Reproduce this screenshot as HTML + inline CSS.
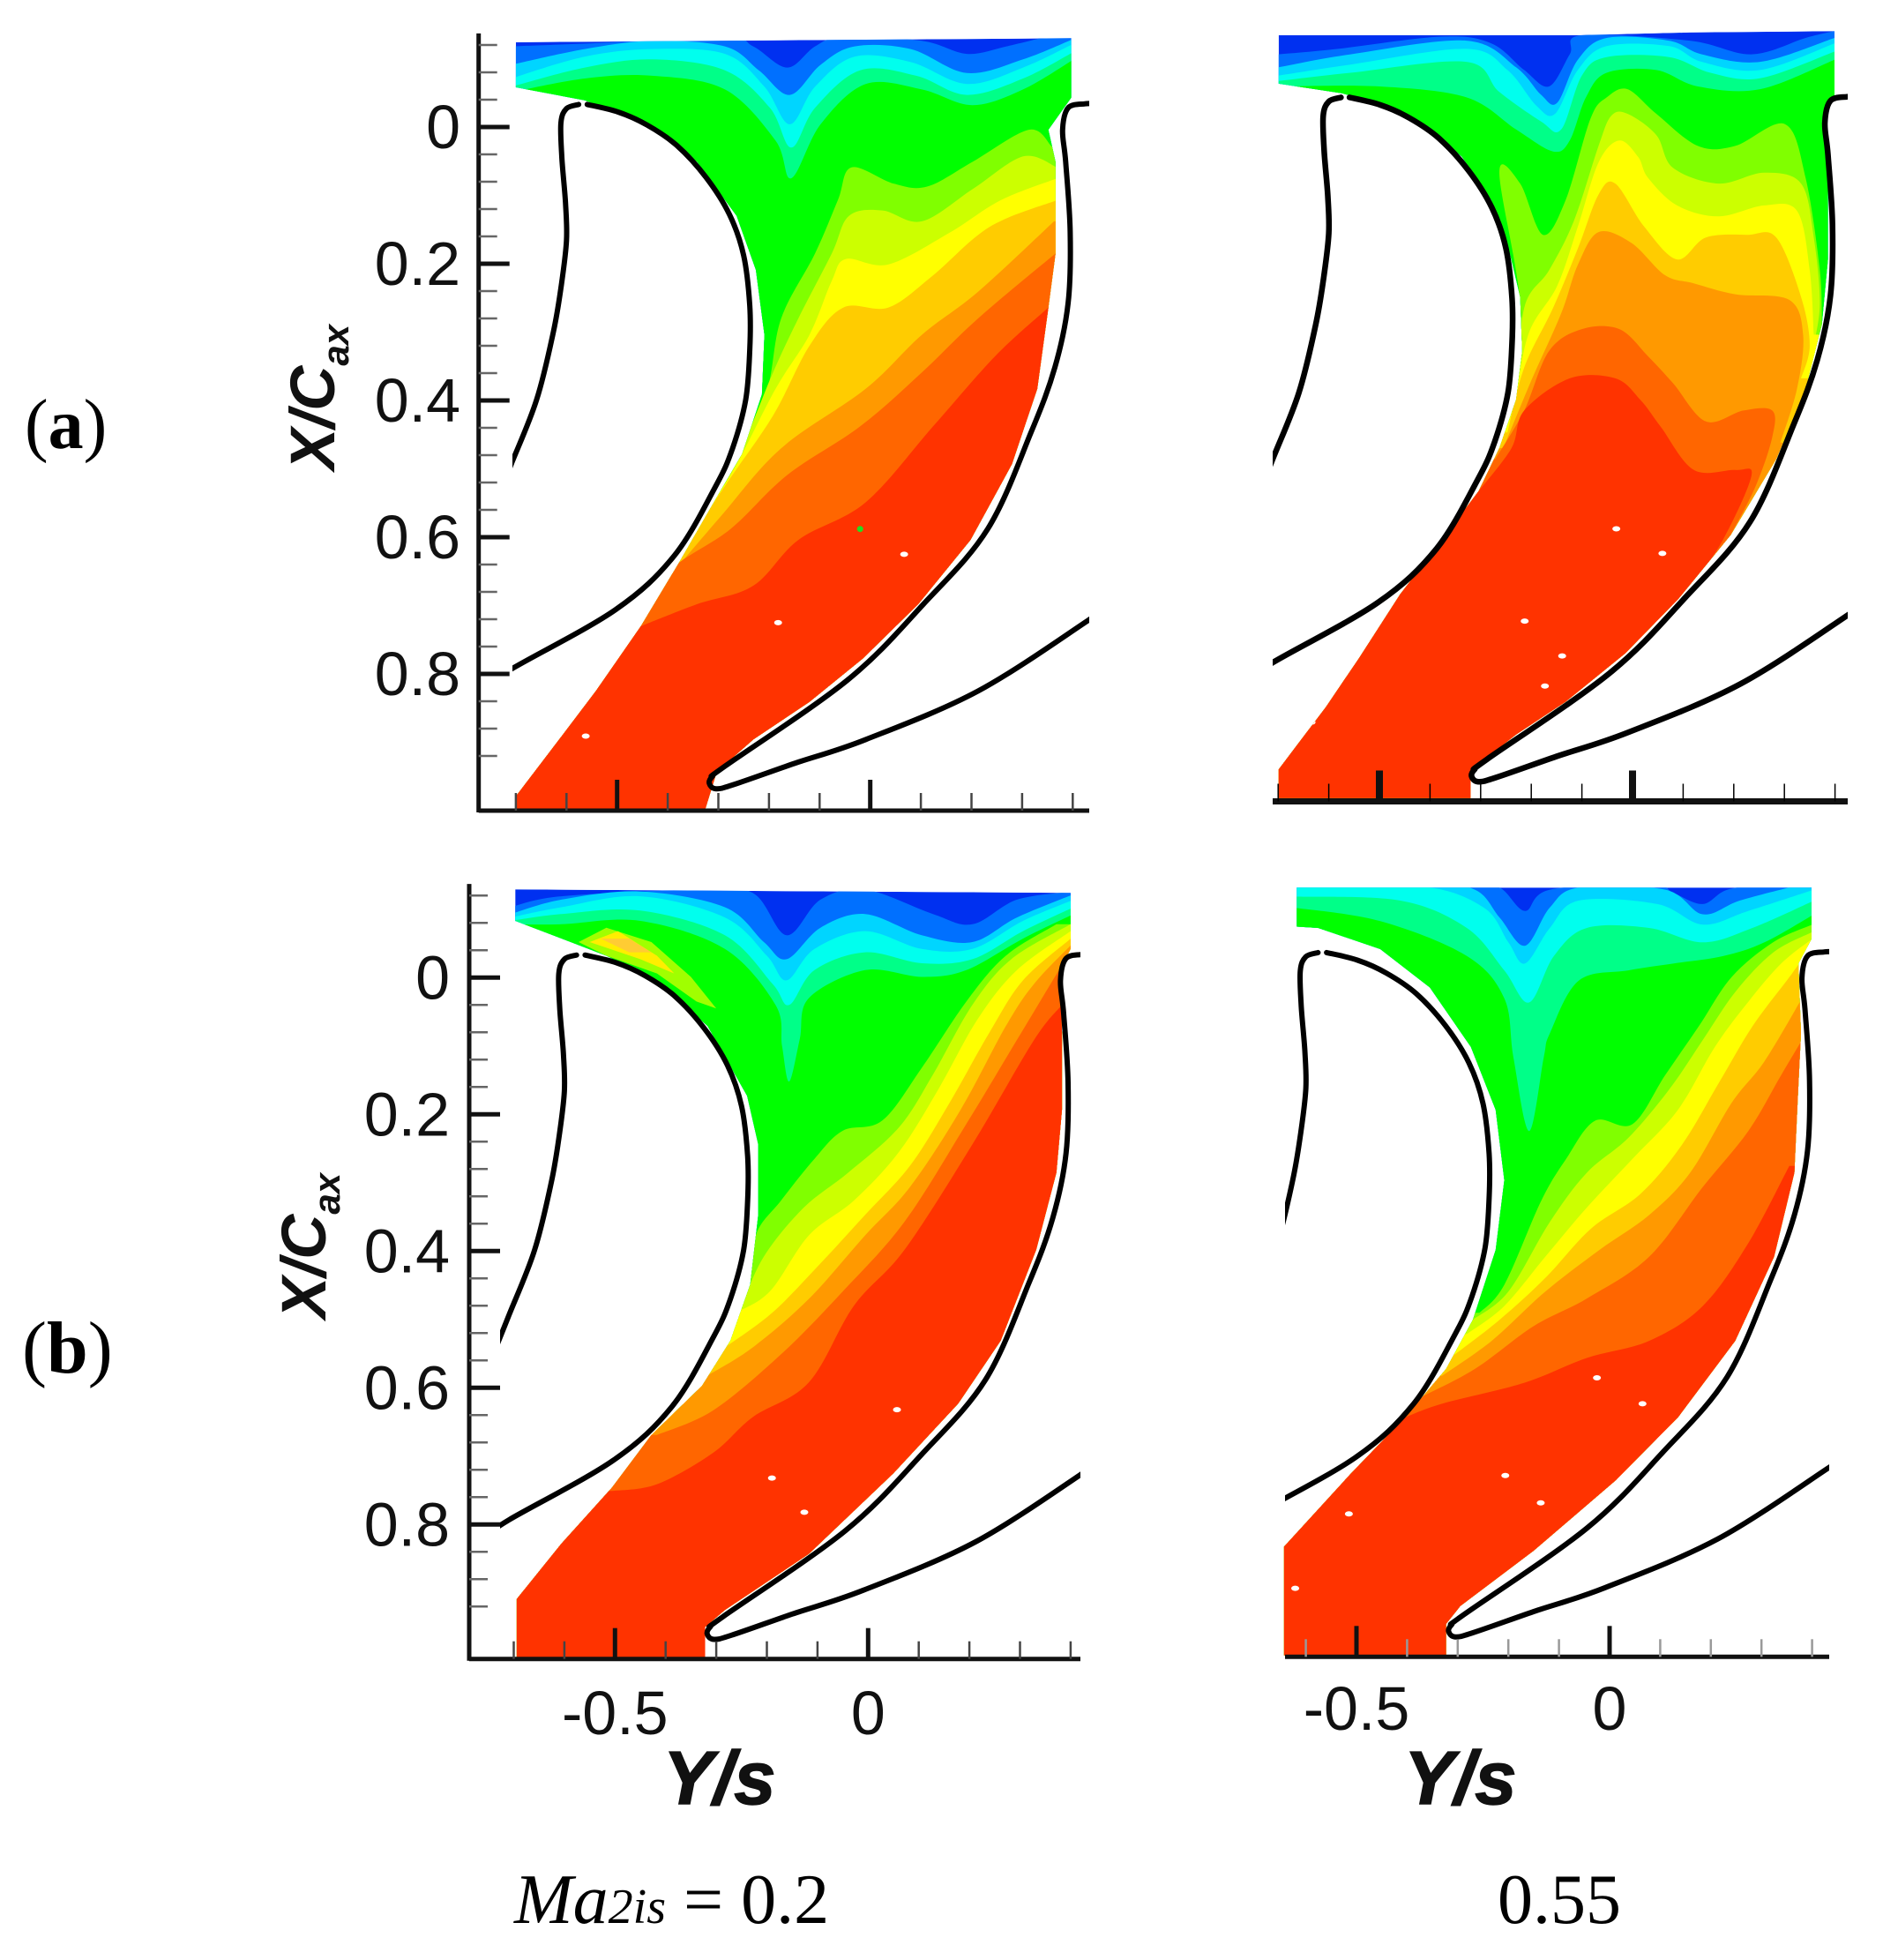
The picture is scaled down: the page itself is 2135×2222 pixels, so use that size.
<!DOCTYPE html>
<html lang="en">
<head>
<meta charset="utf-8">
<title>Contour panels of Y/s against X/Cax</title>
<style>
html,body{margin:0;padding:0;background:#fff;}
svg{display:block;position:absolute;left:0;top:0;}
.tick{font-family:"Liberation Sans",sans-serif;font-size:70px;fill:#111;}
.ttl{font-family:"Liberation Sans",sans-serif;font-weight:bold;font-style:italic;fill:#111;}
.ser{font-family:"Liberation Serif",serif;fill:#000;}
</style>
</head>
<body>
<svg id="figure" xmlns="http://www.w3.org/2000/svg" width="2135" height="2222" viewBox="0 0 2135 2222">
  <rect x="0" y="0" width="2135" height="2222" fill="#fff"/>
  <g id="panels"></g>
  <text class="ser" x="28" y="508" font-size="80">(<tspan font-weight="bold">a</tspan>)</text>
  <text class="ser" x="25" y="1556" font-size="84">(<tspan font-weight="bold">b</tspan>)</text>
  <text class="ttl" font-size="71" transform="translate(379,533) rotate(-90)">X/C<tspan font-size="42" dy="16">ax</tspan></text>
  <text class="ttl" font-size="71" transform="translate(369,1495) rotate(-90)">X/C<tspan font-size="42" dy="16">ax</tspan></text>
  <text class="ttl" font-size="85" x="752" y="2045" stroke="#111" stroke-width="1.5">Y/s</text>
  <text class="ttl" font-size="85" x="1592" y="2045" stroke="#111" stroke-width="1.5">Y/s</text>
  <text class="ser" x="583" y="2180" font-size="80" font-style="italic">Ma<tspan font-size="56">2is</tspan></text>
  <text class="ser" x="775" y="2180" font-size="80">= 0.2</text>
  <text class="ser" x="1768" y="2180" font-size="80" text-anchor="middle">0.55</text>
</svg>
<script>
const yTickValues = [0, 0.2, 0.4, 0.6, 0.8];
const yTickLabels = ["0", "0.2", "0.4", "0.6", "0.8"];
const yMinorValues = [-0.12, -0.08, -0.04, 0.04, 0.08, 0.12, 0.16, 0.24, 0.28, 0.32, 0.36, 0.44, 0.48, 0.52, 0.56, 0.64, 0.68, 0.72, 0.76, 0.84, 0.88, 0.92];
const xTickValues = [-0.5, 0];
const xTickLabels = ["-0.5", "0"];
const xMinorValues = [-0.7, -0.6, -0.4, -0.3, -0.2, -0.1, 0.1, 0.2, 0.3, 0.4];

const levelColors = ["#0070ff", "#00d5ff", "#00ffee", "#00ff88", "#00ff00", "#80ff00", "#ccff00", "#ffff00", "#ffcc00", "#ff9900", "#ff6600", "#ff3300"];
const baseColor = "#0030f0";

const bladeSuction = [[-0.559,-0.033],[-0.498,-0.022],[-0.441,-0.003],[-0.382,0.027],[-0.324,0.074],[-0.278,0.128],[-0.250,0.188],[-0.238,0.261],[-0.238,0.326],[-0.246,0.399],[-0.272,0.470],[-0.305,0.525],[-0.387,0.627],[-0.503,0.706],[-0.709,0.793],[-0.76,0.82]];
const bladePressureLeft = [[-0.576,-0.033],[-0.600,-0.027],[-0.611,-0.006],[-0.609,0.046],[-0.602,0.111],[-0.600,0.166],[-0.610,0.230],[-0.626,0.300],[-0.659,0.399],[-0.709,0.493],[-0.74,0.55]];
const bladeRight = [[0.44,-0.034],[0.424,-0.034],[0.391,-0.028],[0.380,0.004],[0.386,0.051],[0.395,0.154],[0.391,0.257],[0.365,0.351],[0.318,0.446],[0.232,0.588],[0.105,0.698],[-0.045,0.809],[-0.287,0.935],[-0.312,0.950],[-0.318,0.960],[-0.305,0.968],[-0.270,0.962],[-0.150,0.931],[-0.009,0.896],[0.213,0.825],[0.430,0.722],[0.46,0.705]];

const aDomain = [[-.700,-.124],[.397,-.130],[.397,-.043],[.352,.004],[.366,.051],[.366,.185],[.352,.264],[.330,.383],[.280,.493],[.198,.604],[.095,.698],[-.014,.777],[-.120,.841],[-.231,.896],[-.303,.943],[-.326,.998],[-.700,.998],[-.700,.979],[-.631,.912],[-.542,.825],[-.453,.730],[-.376,.635],[-.309,.549],[-.253,.478],[-.214,.391],[-.209,.304],[-.226,.209],[-.264,.130],[-.342,.051],[-.453,-.008],[-.564,-.039],[-.700,-.058]];
const aContours = [
[[-.709,-.118],[-.564,-.122],[-.287,-.130],[-.231,-.118],[-.164,-.087],[-.109,-.118],[-.053,-.132],[.102,-.126],[.191,-.107],[.269,-.118],[.347,-.132]],
[[-.709,-.091],[-.564,-.114],[-.431,-.126],[-.287,-.118],[-.220,-.083],[-.159,-.047],[-.098,-.091],[-.031,-.118],[.080,-.114],[.191,-.079],[.302,-.099],[.402,-.129]],
[[-.709,-.071],[-.564,-.103],[-.431,-.114],[-.287,-.107],[-.209,-.059],[-.159,-.004],[-.109,-.059],[-.031,-.103],[.080,-.095],[.191,-.063],[.302,-.087],[.402,-.122]],
[[-.709,-.059],[-.564,-.087],[-.431,-.099],[-.287,-.083],[-.198,-.028],[-.156,.030],[-.109,-.028],[-.020,-.083],[.091,-.075],[.191,-.047],[.302,-.071],[.402,-.110]],
[[-.709,-.051],[-.564,-.071],[-.431,-.075],[-.287,-.055],[-.187,.020],[-.156,.075],[-.098,-.004],[-.009,-.063],[.102,-.055],[.202,-.032],[.302,-.055],[.402,-.099]],
[[-.337,.584],[-.253,.470],[-.203,.383],[-.176,.280],[-.109,.185],[-.064,.107],[-.037,.059],[.047,.083],[.113,.087],[.202,.051],[.313,.004],[.358,.028]],
[[-.353,.596],[-.264,.485],[-.192,.359],[-.142,.280],[-.076,.185],[-.042,.130],[.024,.122],[.102,.138],[.202,.091],[.302,.043],[.369,.059]],
[[-.376,.620],[-.276,.509],[-.187,.383],[-.120,.304],[-.076,.225],[-.048,.193],[.036,.201],[.158,.154],[.258,.107],[.369,.075]],
[[-.398,.651],[-.287,.525],[-.192,.422],[-.120,.320],[-.053,.264],[.036,.264],[.124,.217],[.236,.146],[.369,.107]],
[[-.426,.683],[-.298,.572],[-.176,.470],[-.009,.383],[.102,.304],[.213,.241],[.363,.138]],
[[-.442,.699],[-.387,.643],[-.276,.588],[-.164,.509],[-.020,.438],[.102,.359],[.213,.280],[.366,.185]],
[[-.453,.730],[-.342,.698],[-.231,.671],[-.142,.604],[-.009,.549],[.124,.438],[.247,.335],[.352,.264]]
];
const aDots = [[-.562,.891],[-.182,.725],[.067,.625]];
const aGreenSpecks = [[-.020,.588]];

const bDomain = [[-.699,-.124],[-.108,-.124],[.113,-.128],[.399,-.130],[.399,-.033],[.382,-.017],[.386,.062],[.386,.204],[.374,.299],[.342,.393],[.284,.496],[.194,.607],[.090,.701],[-.014,.780],[-.132,.851],[-.230,.899],[-.304,.942],[-.320,.966],[-.320,.992],[-.699,.992],[-.699,.950],[-.655,.907],[-.606,.859],[-.541,.788],[-.459,.694],[-.377,.615],[-.304,.543],[-.263,.480],[-.230,.409],[-.218,.338],[-.222,.259],[-.247,.180],[-.279,.117],[-.337,.054],[-.402,.010],[-.484,-.021],[-.574,-.039],[-.699,-.053]];
const bContours = [
[[-.699,-.096],[-.582,-.104],[-.377,-.122],[-.279,-.112],[-.214,-.073],[-.165,-.049],[-.124,-.096],[-.100,-.124],[.113,-.116],[.235,-.096],[.342,-.120],[.399,-.130]],
[[-.699,-.077],[-.557,-.096],[-.328,-.116],[-.230,-.077],[-.181,-.037],[-.149,-.025],[-.108,-.088],[-.051,-.120],[.072,-.116],[.137,-.096],[.252,-.085],[.399,-.120]],
[[-.699,-.065],[-.557,-.081],[-.328,-.104],[-.247,-.073],[-.190,-.021],[-.153,-.009],[-.108,-.073],[-.051,-.108],[.072,-.108],[.137,-.085],[.252,-.073],[.399,-.112]],
[[-.699,-.057],[-.557,-.069],[-.328,-.085],[-.263,-.041],[-.181,.002],[-.141,.014],[-.100,-.065],[-.051,-.092],[.072,-.092],[.154,-.069],[.252,-.061],[.399,-.100]],
[[-.699,-.049],[-.500,-.049],[-.328,-.033],[-.230,.014],[-.157,.046],[-.124,.030],[-.092,-.033],[-.051,-.069],[.047,-.073],[.129,-.049],[.252,-.045],[.399,-.088]],
[[-.230,.409],[-.222,.267],[-.263,.077],[-.222,.093],[-.177,.168],[-.132,.117],[-.083,-.002],[-.051,-.033],[-.010,-.045],[.047,-.009],[.129,.038],[.203,.038],[.301,.006],[.342,.085],[.370,.220],[.374,.299]],
[[-.230,.409],[-.214,.275],[-.165,.220],[-.116,.148],[-.067,.038],[-.042,-.006],[-.010,-.009],[.047,.022],[.080,.070],[.170,.093],[.260,.077],[.333,.093],[.358,.172],[.370,.267],[.358,.330]],
[[-.234,.425],[-.206,.314],[-.149,.243],[-.108,.156],[-.067,.062],[-.026,.030],[.011,.054],[.031,.085],[.088,.125],[.170,.141],[.260,.125],[.325,.133],[.350,.220],[.358,.314]],
[[-.247,.457],[-.214,.362],[-.157,.275],[-.108,.188],[-.067,.109],[-.034,.093],[.023,.156],[.088,.204],[.145,.172],[.227,.168],[.284,.172],[.333,.259],[.350,.330],[.333,.378]],
[[-.255,.480],[-.198,.378],[-.141,.283],[-.108,.212],[-.067,.164],[-.002,.180],[.064,.227],[.121,.239],[.203,.255],[.309,.263],[.337,.314],[.325,.393],[.292,.472]],
[[-.271,.496],[-.214,.425],[-.165,.338],[-.100,.306],[-.026,.306],[.031,.346],[.080,.385],[.145,.441],[.219,.425],[.276,.425],[.276,.464],[.243,.536],[.194,.607]],
[[-.304,.543],[-.239,.480],[-.214,.425],[-.124,.378],[-.034,.378],[.015,.409],[.056,.449],[.121,.512],[.203,.512],[.235,.520],[.178,.615],[.105,.694]]
];
const bDots = [[-.213,.733],[-.173,.828],[-.032,.598],[.059,.634],[-.139,.784],[-.634,.881]];
const bGreenSpecks = [];

const cDomain = [[-.697,-.129],[.400,-.124],[.400,-.042],[.378,-.011],[.383,.081],[.383,.193],[.372,.285],[.332,.398],[.262,.531],[.178,.623],[.050,.725],[-.117,.843],[-.283,.925],[-.322,.950],[-.322,.999],[-.694,.999],[-.694,.909],[-.606,.828],[-.506,.746],[-.428,.669],[-.328,.597],[-.272,.531],[-.233,.449],[-.217,.347],[-.217,.244],[-.239,.173],[-.317,.071],[-.417,.004],[-.517,-.032],[-.697,-.083]];
const cContours = [
[[-.706,-.103],[-.606,-.119],[-.339,-.129],[-.228,-.124],[-.161,-.062],[-.094,-.114],[-.006,-.129],[.128,-.093],[.206,-.078],[.294,-.114],[.406,-.126]],
[[-.706,-.093],[-.606,-.114],[-.450,-.126],[-.283,-.103],[-.206,-.052],[-.161,-.027],[-.094,-.073],[-.006,-.093],[.106,-.062],[.206,-.052],[.294,-.088],[.406,-.122]],
[[-.706,-.088],[-.606,-.103],[-.450,-.119],[-.283,-.088],[-.200,-.032],[-.161,.004],[-.106,-.042],[-.006,-.068],[.106,-.042],[.206,-.042],[.306,-.083],[.406,-.114]],
[[-.706,-.083],[-.606,-.093],[-.450,-.098],[-.283,-.062],[-.189,.009],[-.156,.040],[-.106,-.011],[-.006,-.037],[.106,-.021],[.206,-.027],[.306,-.068],[.406,-.103]],
[[-.706,-.078],[-.606,-.078],[-.450,-.083],[-.283,-.042],[-.183,.040],[-.170,.100],[-.156,.152],[-.135,.090],[-.117,.030],[-.006,-.011],[.106,-.001],[.194,-.011],[.306,-.057],[.406,-.093]],
[[-.233,.459],[-.222,.377],[-.172,.326],[-.106,.265],[-.050,.224],[.028,.209],[.106,.132],[.194,.035],[.272,-.032],[.372,-.078]],
[[-.250,.480],[-.206,.408],[-.128,.337],[-.039,.285],[.061,.219],[.128,.142],[.206,.040],[.283,-.027],[.400,-.078]],
[[-.261,.490],[-.194,.459],[-.117,.377],[-.028,.326],[.061,.255],[.139,.163],[.217,.060],[.294,-.011],[.400,-.068]],
[[-.283,.541],[-.189,.490],[-.094,.418],[-.006,.347],[.083,.275],[.161,.183],[.239,.081],[.306,.004],[.400,-.057]],
[[-.317,.582],[-.228,.541],[-.117,.470],[-.006,.377],[.083,.306],[.183,.193],[.272,.071],[.328,.009],[.400,-.047]],
[[-.417,.669],[-.306,.633],[-.172,.551],[-.050,.459],[.072,.357],[.194,.214],[.294,.091],[.394,-.032]],
[[-.506,.751],[-.417,.741],[-.306,.695],[-.228,.643],[-.117,.592],[-.028,.480],[.072,.398],[.206,.244],[.328,.091],[.383,.040]]
];
const cDots = [[-.190,.732],[-.126,.782],[.057,.632]];
const cGreenSpecks = [];
const cPatchGreen = [[-.572,-.052],[-.517,-.073],[-.428,-.052],[-.350,-.001],[-.300,.045],[-.339,.035],[-.417,-.006],[-.517,-.032]];
const cPatchYellow = [[-.550,-.052],[-.494,-.068],[-.417,-.032],[-.383,-.006],[-.450,-.027]];
const cPatchGold = [[-.528,-.057],[-.472,-.057],[-.428,-.037],[-.472,-.037]];

const dDomain = [[-.618,-.128],[.399,-.128],[.399,-.053],[.373,-.017],[.378,.085],[.372,.177],[.365,.289],[.325,.412],[.248,.535],[.135,.647],[.012,.739],[-.150,.842],[-.295,.923],[-.323,.949],[-.323,.995],[-.643,.995],[-.643,.836],[-.511,.729],[-.404,.647],[-.323,.576],[-.270,.504],[-.225,.402],[-.208,.300],[-.225,.197],[-.274,.105],[-.355,.018],[-.453,-.038],[-.576,-.069],[-.618,-.071]];
const dContours = [
[[-.625,-.135],[-.282,-.135],[-.217,-.128],[-.167,-.094],[-.118,-.125],[.078,-.135],[.127,-.120],[.184,-.104],[.233,-.125],[.323,-.135],[.404,-.135]],
[[-.625,-.135],[-.372,-.135],[-.266,-.125],[-.217,-.084],[-.167,-.043],[-.118,-.099],[-.061,-.128],[.110,-.125],[.184,-.089],[.257,-.109],[.364,-.130]],
[[-.625,-.130],[-.372,-.130],[-.249,-.099],[-.200,-.048],[-.167,-.017],[-.118,-.069],[-.061,-.109],[.094,-.104],[.184,-.074],[.274,-.094],[.404,-.125]],
[[-.625,-.115],[-.413,-.109],[-.282,-.069],[-.208,-.007],[-.159,.040],[-.110,-.028],[-.045,-.069],[.078,-.069],[.184,-.048],[.282,-.069],[.404,-.109]],
[[-.625,-.099],[-.453,-.079],[-.282,-.028],[-.208,.034],[-.190,.120],[-.159,.228],[-.130,.120],[-.118,.085],[-.061,.008],[.037,-.007],[.127,-.017],[.225,-.028],[.306,-.048],[.404,-.089]],
[[-.257,.494],[-.208,.453],[-.135,.330],[-.086,.269],[-.029,.213],[.045,.218],[.110,.146],[.176,.075],[.241,.003],[.323,-.048],[.400,-.074]],
[[-.270,.504],[-.200,.463],[-.118,.361],[-.045,.289],[.037,.238],[.118,.167],[.184,.095],[.249,.024],[.323,-.033],[.400,-.063]],
[[-.282,.525],[-.208,.484],[-.127,.412],[-.045,.340],[.045,.269],[.135,.197],[.208,.105],[.274,.039],[.339,-.017],[.400,-.053]],
[[-.306,.555],[-.217,.504],[-.127,.443],[-.037,.371],[.061,.320],[.143,.248],[.217,.156],[.282,.075],[.355,.003],[.400,-.043]],
[[-.331,.586],[-.233,.535],[-.127,.463],[-.020,.402],[.078,.351],[.159,.289],[.241,.187],[.306,.126],[.380,.034]],
[[-.372,.617],[-.266,.576],[-.151,.514],[-.045,.473],[.078,.412],[.184,.310],[.274,.228],[.339,.146],[.380,.095]],
[[-.404,.647],[-.331,.627],[-.167,.596],[-.045,.560],[.078,.535],[.184,.484],[.274,.392],[.355,.279]]
];
const dDots = [[-.206,.732],[-.136,.772],[.065,.627],[-.515,.788],[-.621,.897],[-.025,.589]];
const dGreenSpecks = [];

const NS = "http://www.w3.org/2000/svg";
const root = document.getElementById("panels");

function make(tag, parent, attrs) {
  const el = document.createElementNS(NS, tag);
  for (const k in attrs) el.setAttribute(k, attrs[k]);
  parent.appendChild(el);
  return el;
}
function smoothPath(pts) {
  let d = "";
  for (let i = 0; i < pts.length - 1; i++) {
    const p0 = pts[Math.max(i - 1, 0)], p1 = pts[i], p2 = pts[i + 1], p3 = pts[Math.min(i + 2, pts.length - 1)];
    const c1x = p1[0] + (p2[0] - p0[0]) / 6, c1y = p1[1] + (p2[1] - p0[1]) / 6;
    const c2x = p2[0] - (p3[0] - p1[0]) / 6, c2y = p2[1] - (p3[1] - p1[1]) / 6;
    d += "C" + c1x.toFixed(1) + " " + c1y.toFixed(1) + " " + c2x.toFixed(1) + " " + c2y.toFixed(1) + " " + p2[0].toFixed(1) + " " + p2[1].toFixed(1);
  }
  return d;
}

function drawPanel(cfg, domain, contours, dots, specks, patches) {
  const xOf = function (v) { return cfg.x0 + 574 * v; };
  const yOf = function (v) { return cfg.y0 + 775 * v; };
  const toPx = function (p) { return [xOf(p[0]), yOf(p[1])]; };
  const g = make("g", root, {});
  
  

  const domainPts = domain.map(toPx).map(function (p) { return p[0].toFixed(1) + "," + p[1].toFixed(1); }).join(" ");
  const defs = make("defs", g, {});
  const clip = make("clipPath", defs, { id: cfg.id + "-clip" });
  make("polygon", clip, { points: domainPts });
  const frame = make("clipPath", defs, { id: cfg.id + "-frame" });
  make("rect", frame, { x: cfg.left, y: 0, width: cfg.right - cfg.left, height: 2222 });

  const field = make("g", g, { "clip-path": "url(#" + cfg.id + "-clip)" });
  
  
  const base = make("polygon", field, { points: domainPts, fill: baseColor });
  
  

  contours.forEach(function (line, i) {
    const pts = line.map(toPx);
    const first = pts[0], last = pts[pts.length - 1];
    const d = "M" + (xOf(-0.95)).toFixed(1) + " " + first[1].toFixed(1) + "L" + first[0].toFixed(1) + " " + first[1].toFixed(1) +
      smoothPath(pts) + "L" + (xOf(0.7)).toFixed(1) + " " + last[1].toFixed(1) +
      "L" + (xOf(0.7)).toFixed(1) + " " + yOf(1.2).toFixed(1) + "L" + (xOf(-0.95)).toFixed(1) + " " + yOf(1.2).toFixed(1) + "Z";
    const band = make("path", field, { d: d, fill: levelColors[i] });
    
    
  });

  (patches || []).forEach(function (patch) {
    const pts = patch.points.map(toPx);
    const shape = make("polygon", field, { points: pts.map(function (p) { return p[0].toFixed(1) + "," + p[1].toFixed(1); }).join(" "), fill: patch.color });
    
    
  });

  dots.forEach(function (p) {
    const dot = make("ellipse", field, { cx: xOf(p[0]), cy: yOf(p[1]), rx: 4.5, ry: 3, fill: "#fff" });
    
    
  });
  specks.forEach(function (p) {
    const sp = make("circle", field, { cx: xOf(p[0]), cy: yOf(p[1]), r: 3.5, fill: "#22dd22" });
    
    
  });

  const blades = make("g", g, { "clip-path": "url(#" + cfg.id + "-frame)", fill: "none", stroke: "#000", "stroke-width": cfg.bladeWidth, "stroke-linecap": "round", "stroke-linejoin": "round" });
  
  
  [bladeSuction, bladePressureLeft, bladeRight].forEach(function (arr) {
    const pts = arr.map(toPx);
    const path = make("path", blades, { d: "M" + pts[0][0].toFixed(1) + " " + pts[0][1].toFixed(1) + smoothPath(pts) });
    
    
  });

  const axisG = make("g", g, { stroke: "#111", fill: "none" });
  
  
  const bottom = make("line", axisG, { x1: cfg.axisLeft, x2: cfg.right, y1: cfg.axisY, y2: cfg.axisY, "stroke-width": cfg.axisWidth });
  
  

  xMinorValues.forEach(function (v) {
    const px = xOf(v);
    if (px < cfg.axisLeft + 4 || px > cfg.right) return;
    const t = make("line", axisG, { x1: px, x2: px, y1: cfg.axisY, y2: cfg.axisY - 20, "stroke-width": cfg.minorWidth, stroke: cfg.minorColor });
    
    
  });
  xTickValues.forEach(function (v, i) {
    const px = xOf(v);
    const t = make("line", axisG, { x1: px, x2: px, y1: cfg.axisY, y2: cfg.axisY - 35, "stroke-width": cfg.majorWidth });
    
    
    if (cfg.xLabelY) {
      const lb = make("text", g, { x: cfg.x0 + 574 * v, y: cfg.xLabelY, "text-anchor": "middle", class: "tick" });
      
      
      lb.textContent = xTickLabels[i];
    }
  });

  if (cfg.yAxis) {
    const leftLine = make("line", axisG, { x1: cfg.axisLeft, x2: cfg.axisLeft, y1: yOf(-0.137), y2: cfg.axisY + 2, "stroke-width": cfg.axisWidth });
    
    
    yMinorValues.forEach(function (v) {
      const t = make("line", axisG, { x1: cfg.axisLeft, x2: cfg.axisLeft + 21, y1: yOf(v), y2: yOf(v), "stroke-width": 2.5, stroke: "#666" });
      
      
    });
    yTickValues.forEach(function (v, i) {
      const t = make("line", axisG, { x1: cfg.axisLeft, x2: cfg.axisLeft + 35, y1: yOf(v), y2: yOf(v), "stroke-width": 5 });
      
      
      const lb = make("text", g, { x: cfg.yLabelX, y: yOf(v) + 24, "text-anchor": "end", class: "tick" });
      
      
      lb.textContent = yTickLabels[i];
    });
  }
}

drawPanel({ id: "pa", name: "panel-a-ma-0-2", x0: 986.7, y0: 144, left: 581, right: 1235, axisLeft: 542.7, axisY: 919, axisWidth: 5, majorWidth: 5, minorWidth: 2.5, bladeWidth: 6, minorColor: "#444", yAxis: true, yLabelX: 522, xLabelY: 0 }, aDomain, aContours, aDots, aGreenSpecks);
drawPanel({ id: "pb", name: "panel-a-ma-0-55", x0: 1851, y0: 136, left: 1443, right: 2095, axisLeft: 1443, axisY: 908.5, axisWidth: 7, majorWidth: 8, minorWidth: 1.5, bladeWidth: 6.5, minorColor: "#000", yAxis: false, xLabelY: 0 }, bDomain, bContours, bDots, bGreenSpecks);
drawPanel({ id: "pc", name: "panel-b-ma-0-2", x0: 984.3, y0: 1108.3, left: 567, right: 1225, axisLeft: 532, axisY: 1880.7, axisWidth: 5, majorWidth: 5, minorWidth: 2.5, bladeWidth: 6, minorColor: "#444", yAxis: true, yLabelX: 510, xLabelY: 1966 }, cDomain, cContours, cDots, cGreenSpecks, [
  { points: cPatchGreen, color: "#a0ff00" },
  { points: cPatchYellow, color: "#ffee00" },
  { points: cPatchGold, color: "#ffcc33" }
]);
drawPanel({ id: "pd", name: "panel-b-ma-0-55", x0: 1825, y0: 1105.5, left: 1457, right: 2074, axisLeft: 1457, axisY: 1878.3, axisWidth: 5, majorWidth: 5, minorWidth: 2.5, bladeWidth: 6, minorColor: "#999", yAxis: false, xLabelY: 1961 }, dDomain, dContours, dDots, dGreenSpecks);
</script>
</body>
</html>
